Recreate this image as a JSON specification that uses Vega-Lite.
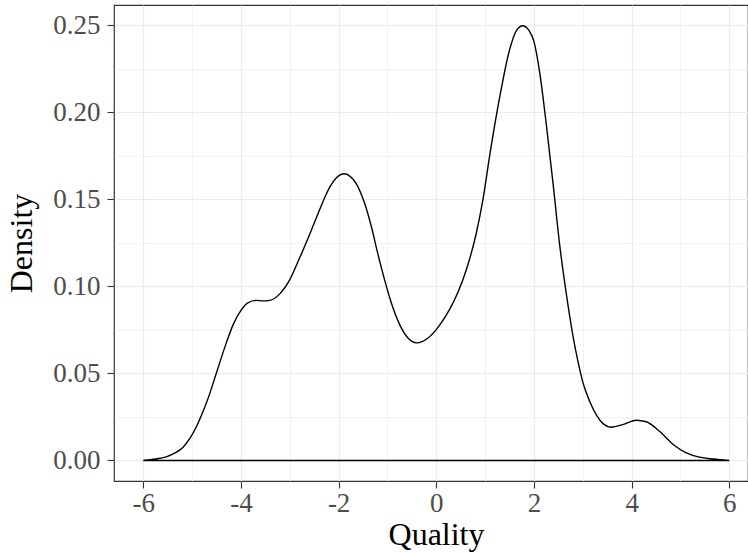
{
  "$schema": "https://vega.github.io/schema/vega-lite/v6.json",
  "width": 634,
  "height": 476,
  "autosize": {"type": "none"},
  "padding": {"left": 114, "top": 5, "right": 0, "bottom": 73},
  "background": "white",
  "data": {
    "values": [
      {"quality": -6.0, "density": 0.0},
      {"quality": -5.75, "density": 0.0008},
      {"quality": -5.53, "density": 0.0021},
      {"quality": -5.35, "density": 0.0043},
      {"quality": -5.19, "density": 0.0075},
      {"quality": -5.05, "density": 0.0125},
      {"quality": -4.91, "density": 0.0195},
      {"quality": -4.8, "density": 0.0265},
      {"quality": -4.65, "density": 0.0375},
      {"quality": -4.5, "density": 0.0505},
      {"quality": -4.3, "density": 0.0675},
      {"quality": -4.16, "density": 0.078},
      {"quality": -3.99, "density": 0.0866},
      {"quality": -3.86, "density": 0.0905},
      {"quality": -3.69, "density": 0.0919},
      {"quality": -3.55, "density": 0.0916},
      {"quality": -3.41, "density": 0.0919},
      {"quality": -3.21, "density": 0.0955},
      {"quality": -3.0, "density": 0.1038},
      {"quality": -2.8, "density": 0.1162},
      {"quality": -2.62, "density": 0.128},
      {"quality": -2.46, "density": 0.139},
      {"quality": -2.3, "density": 0.15},
      {"quality": -2.185, "density": 0.1568},
      {"quality": -2.05, "density": 0.1622},
      {"quality": -1.88, "density": 0.1646},
      {"quality": -1.75, "density": 0.1628},
      {"quality": -1.64, "density": 0.159},
      {"quality": -1.47, "density": 0.1478},
      {"quality": -1.33, "density": 0.1343},
      {"quality": -1.2, "density": 0.119},
      {"quality": -1.06, "density": 0.1038},
      {"quality": -0.92, "density": 0.0904},
      {"quality": -0.75, "density": 0.078},
      {"quality": -0.58, "density": 0.0703},
      {"quality": -0.4, "density": 0.0675},
      {"quality": -0.17, "density": 0.0703},
      {"quality": 0.05, "density": 0.077},
      {"quality": 0.27, "density": 0.0866},
      {"quality": 0.45, "density": 0.097},
      {"quality": 0.615, "density": 0.1095},
      {"quality": 0.82, "density": 0.1306},
      {"quality": 0.955, "density": 0.1497},
      {"quality": 1.09, "density": 0.1745},
      {"quality": 1.3, "density": 0.2089},
      {"quality": 1.5, "density": 0.2357},
      {"quality": 1.64, "density": 0.2468},
      {"quality": 1.77, "density": 0.2496},
      {"quality": 1.9, "density": 0.2468},
      {"quality": 2.0, "density": 0.2405},
      {"quality": 2.12, "density": 0.2223},
      {"quality": 2.25, "density": 0.1936},
      {"quality": 2.39, "density": 0.1592},
      {"quality": 2.53, "density": 0.1229},
      {"quality": 2.66, "density": 0.0962},
      {"quality": 2.8, "density": 0.0713},
      {"quality": 2.9, "density": 0.057},
      {"quality": 3.0, "density": 0.045},
      {"quality": 3.14, "density": 0.034},
      {"quality": 3.28, "density": 0.026},
      {"quality": 3.42, "density": 0.021},
      {"quality": 3.58, "density": 0.0191},
      {"quality": 3.82, "density": 0.0206},
      {"quality": 4.1, "density": 0.0231},
      {"quality": 4.3, "density": 0.0222},
      {"quality": 4.57, "density": 0.0168},
      {"quality": 4.85, "density": 0.0092},
      {"quality": 5.12, "density": 0.0044},
      {"quality": 5.39, "density": 0.0019},
      {"quality": 5.67, "density": 0.0008},
      {"quality": 6.0, "density": 0.0}
    ]
  },
  "mark": {
    "type": "area",
    "interpolate": "monotone",
    "fillOpacity": 0,
    "stroke": "black",
    "strokeWidth": 1.4
  },
  "encoding": {
    "x": {
      "field": "quality",
      "type": "quantitative",
      "title": "Quality",
      "scale": {"domain": [-6.6, 6.383], "nice": false, "zero": false},
      "axis": {
        "values": [-6, -5, -4, -3, -2, -1, 0, 1, 2, 3, 4, 5, 6],
        "labelExpr": "abs(datum.value) % 2 === 0 ? '' + datum.value : ''",
        "gridWidth": {"condition": {"test": "abs(datum.value) % 2 === 1", "value": 0.7}, "value": 1.2},
        "tickOpacity": {"condition": {"test": "abs(datum.value) % 2 === 1", "value": 0}, "value": 1},
        "labelPadding": 2,
        "titlePadding": 3,
        "titleX": 322
      }
    },
    "y": {
      "field": "density",
      "type": "quantitative",
      "title": "Density",
      "scale": {"domain": [-0.0118, 0.2615], "nice": false, "zero": false},
      "axis": {
        "values": [0, 0.025, 0.05, 0.075, 0.1, 0.125, 0.15, 0.175, 0.2, 0.225, 0.25],
        "labelExpr": "round(datum.value * 40) % 2 === 0 ? format(datum.value, '.2f') : ''",
        "gridWidth": {"condition": {"test": "round(datum.value * 40) % 2 === 1", "value": 0.7}, "value": 1.2},
        "tickOpacity": {"condition": {"test": "round(datum.value * 40) % 2 === 1", "value": 0}, "value": 1},
        "labelPadding": 7,
        "titlePadding": 14
      }
    }
  },
  "config": {
    "view": {"stroke": "#333333", "strokeWidth": 1.2},
    "axis": {
      "domain": false,
      "grid": true,
      "gridColor": "#ebebeb",
      "tickColor": "#333333",
      "tickSize": 7,
      "tickWidth": 1.1,
      "labelFont": "Liberation Serif",
      "labelFontSize": 27,
      "labelColor": "#4d4d4d",
      "titleFont": "Liberation Serif",
      "titleFontSize": 32,
      "titleFontWeight": "normal",
      "titleColor": "black"
    }
  }
}
